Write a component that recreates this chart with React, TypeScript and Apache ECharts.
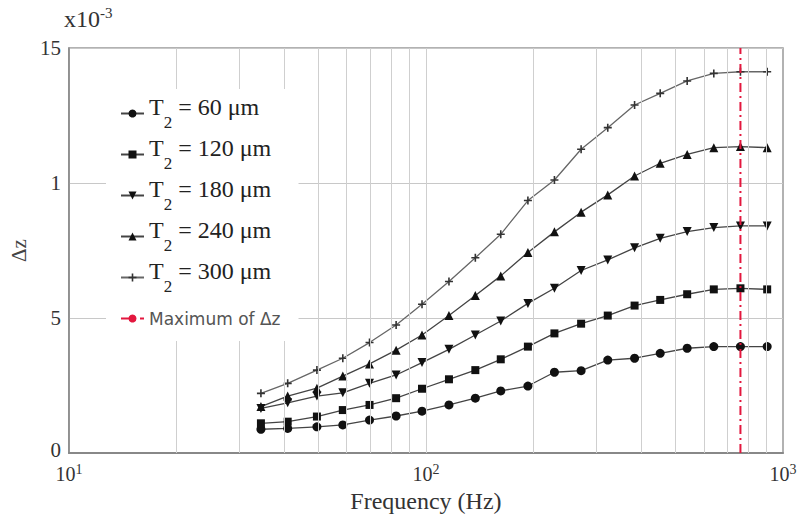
import React, { useEffect, useRef } from 'react';
import * as echarts from 'echarts';

const frequencies = [34.5, 41, 49.5, 58.5, 69.5, 82.5, 97.5, 116, 137.5, 162, 193, 229, 272, 323, 384, 453, 539, 640, 760, 903];
const t60 = [0.88, 0.91, 0.97, 1.04, 1.22, 1.37, 1.55, 1.78, 2.03, 2.3, 2.48, 2.99, 3.05, 3.44, 3.51, 3.69, 3.88, 3.94, 3.94, 3.94];
const t120 = [1.1, 1.16, 1.35, 1.59, 1.78, 2.03, 2.38, 2.73, 3.07, 3.47, 3.94, 4.43, 4.79, 5.09, 5.46, 5.67, 5.88, 6.06, 6.1, 6.06];
const t180 = [1.65, 1.86, 2.11, 2.23, 2.58, 2.89, 3.35, 3.84, 4.37, 4.89, 5.54, 6.1, 6.76, 7.15, 7.6, 7.95, 8.2, 8.35, 8.41, 8.41];
const t240 = [1.72, 2.11, 2.4, 2.85, 3.3, 3.81, 4.37, 5.09, 5.83, 6.56, 7.43, 8.19, 8.92, 9.56, 10.26, 10.73, 11.06, 11.31, 11.35, 11.31];
const t300 = [2.21, 2.58, 3.07, 3.51, 4.09, 4.74, 5.51, 6.35, 7.23, 8.1, 9.35, 10.11, 11.25, 12.05, 12.89, 13.32, 13.78, 14.06, 14.12, 14.12];
const seriesNames = ['T2 = 60 μm', 'T2 = 120 μm', 'T2 = 180 μm', 'T2 = 240 μm', 'T2 = 300 μm'];
const maxName = 'Maximum of Δz';
const maxFrequency = 760;
const gridFrequencies = [20, 30, 40, 50, 60, 70, 80, 90, 100, 200, 300, 400, 500, 600, 700, 800, 900];
const yLabels: Record<number, string> = { 0: '0', 5: '5', 10: '1', 15: '15' };

const SERIF = 'Liberation Serif';
const SANS = 'DejaVu Sans';
const PLUS = 'path://M4,0H6V4H10V6H6V10H4V6H0V4H4Z';
const TRI_DOWN = 'path://M0,0L10,0L5,9Z';

export default function App() {
  const ref = useRef<HTMLDivElement>(null);
  useEffect(() => {
    if (!ref.current) return;
    const chart = echarts.init(ref.current, undefined, { renderer: 'svg' });
    const allValues = [t60, t120, t180, t240, t300];
    const symbols = ['circle', 'rect', TRI_DOWN, 'triangle', PLUS];
    const sizes = [9, 8, 9, 9, 8];
    const series: any[] = allValues.map((vals, i) => ({
      type: 'line',
      name: seriesNames[i],
      data: frequencies.map((f, k) => [f, vals[k]]),
      symbol: symbols[i],
      symbolSize: sizes[i],
      showSymbol: true,
      lineStyle: { color: i === 4 ? '#666' : '#444', width: 1.3 },
      itemStyle: { color: i === 4 ? '#333' : '#111' },
      z: 3,
    }));
    series.push({
      type: 'line',
      name: maxName,
      data: [[maxFrequency, 0], [maxFrequency, 15]],
      symbol: 'none',
      lineStyle: { color: '#e3173e', width: 2, type: [9, 4, 2, 4] },
      itemStyle: { color: '#e3173e' },
      z: 4,
    });
    series.push({
      type: 'line',
      name: 'grid',
      data: [],
      z: 1,
      silent: true,
      markLine: {
        silent: true,
        symbol: ['none', 'none'],
        label: { show: false },
        lineStyle: { color: '#cfcfcf', width: 1, type: 'solid' },
        data: gridFrequencies.map((f) => ({ xAxis: f })),
      },
    });
    chart.setOption({
      animation: false,
      backgroundColor: '#fff',
      grid: { left: 61, right: 19, top: 48, bottom: 66, show: true, borderColor: '#999', borderWidth: 1.5 },
      xAxis: {
        type: 'log',
        logBase: 10,
        min: 10,
        max: 1000,
        name: 'Frequency (Hz)',
        nameLocation: 'middle',
        nameGap: 35,
        nameTextStyle: { fontFamily: SERIF, fontSize: 24, color: '#333' },
        axisLine: { show: true, lineStyle: { color: '#888', width: 2 } },
        axisTick: { show: false },
        splitLine: { show: false },
        axisLabel: {
          margin: 9,
          formatter: (v: number) => `{b|10}{s|${Math.round(Math.log10(v))}}`,
          rich: {
            b: { fontFamily: SERIF, fontSize: 20, color: '#333', lineHeight: 22, verticalAlign: 'bottom' },
            s: { fontFamily: SERIF, fontSize: 14, color: '#333', lineHeight: 14, verticalAlign: 'top' },
          },
        },
      },
      yAxis: {
        type: 'value',
        min: 0,
        max: 15,
        interval: 5,
        name: 'Δz',
        nameLocation: 'middle',
        nameGap: 34,
        nameTextStyle: { fontFamily: SERIF, fontSize: 21, color: '#444' },
        axisLine: { show: true, lineStyle: { color: '#888', width: 1.5 } },
        axisTick: { show: false },
        splitLine: { show: true, lineStyle: { color: '#c8c8c8', width: 1 } },
        axisLabel: {
          margin: 8,
          fontFamily: SERIF,
          fontSize: 21,
          color: '#333',
          formatter: (v: number) => (v === 0 ? '{z|0}' : yLabels[v] ?? String(v)),
          rich: {
            z: { fontFamily: SERIF, fontSize: 21, color: '#333', lineHeight: 21, padding: [0, 0, 7, 0] },
          },
        },
      },
      legend: {
        data: [...seriesNames, maxName],
        orient: 'vertical',
        left: 106,
        top: 89,
        padding: [6, 18, 4, 14],
        backgroundColor: '#fff',
        itemWidth: 23,
        itemHeight: 10,
        itemGap: 4,
        z: 10,
        formatter: (name: string) =>
          name.startsWith('T2') ? `{t|T}{s|2}{t|${name.slice(2)}}` : `{m|${name}}`,
        textStyle: {
          rich: {
            t: { fontFamily: SERIF, fontSize: 24, color: '#222', lineHeight: 24, padding: [0, 0, 13, 0] },
            s: { fontFamily: SERIF, fontSize: 17, color: '#222', lineHeight: 17, padding: [19, 0, 1, 0] },
            m: { fontFamily: SANS, fontSize: 17, color: '#555', lineHeight: 17, padding: [10, 0, 10, 0] },
          },
        },
      },
      graphic: [
        {
          type: 'text',
          left: 64,
          top: 5,
          style: {
            text: '{a|x10}{b|-3}',
            rich: {
              a: { fontFamily: SERIF, fontSize: 24, fill: '#333', lineHeight: 26, verticalAlign: 'bottom' },
              b: { fontFamily: SERIF, fontSize: 15, fill: '#333', lineHeight: 15, verticalAlign: 'top' },
            },
          },
        },
      ],
      series,
    });
    return () => chart.dispose();
  }, []);
  return <div ref={ref} style={{ width: 802, height: 519, position: 'absolute', left: 0, top: 0 }} />;
}
